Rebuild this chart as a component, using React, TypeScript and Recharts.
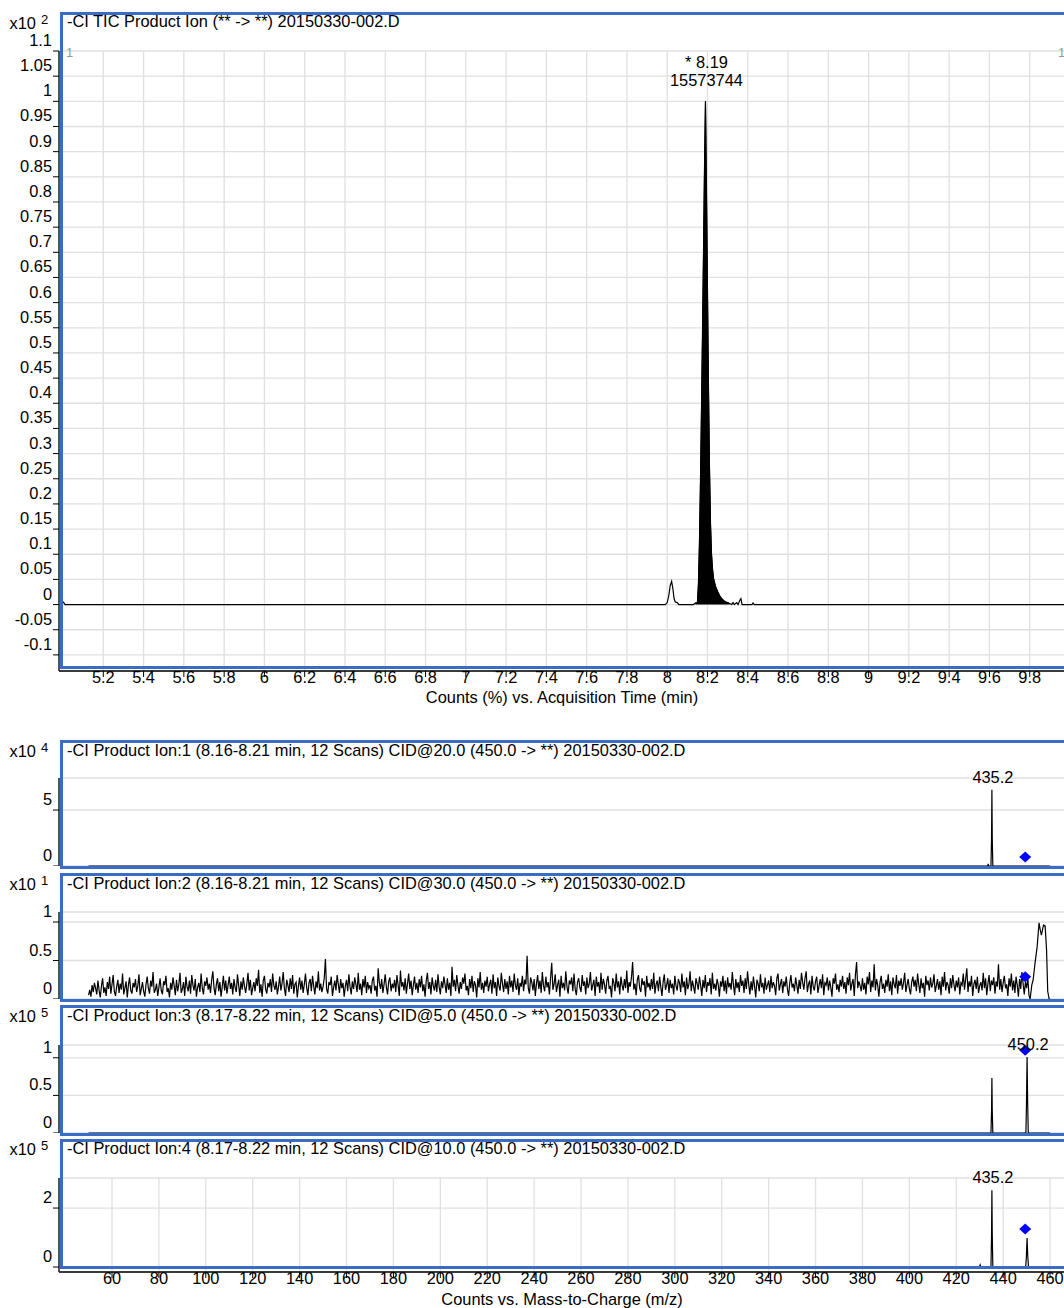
import React from "react";
import {
  ComposedChart,
  Line,
  Area,
  Scatter,
  XAxis,
  YAxis,
  CartesianGrid,
  ReferenceDot,
  Label,
} from "recharts";

const FONT = '"Liberation Sans", Arial, Helvetica, sans-serif';
const FS = 16.4;
const BLUE = "#3a6cc6";
const GRID = "#e0e0e0";

// ---------------- TIC chromatogram (top) ----------------
const ticTimes = [
  5.0, 5.01, 6.0, 7.0, 7.99, 8.0, 8.008, 8.015, 8.022, 8.028, 8.034, 8.04, 8.05, 8.058,
  8.13, 8.14, 8.15, 8.155, 8.16, 8.165, 8.17, 8.175, 8.18, 8.185, 8.19, 8.195, 8.2,
  8.205, 8.21, 8.215, 8.22, 8.225, 8.23, 8.24, 8.25, 8.26, 8.27, 8.28, 8.29, 8.3, 8.31,
  8.32, 8.327, 8.333, 8.345, 8.352, 8.36, 8.366, 8.372, 8.42, 8.426, 8.432, 10.0,
];
const ticValues = [
  0.006, 0.0, 0.0, 0.0, 0.0, 0.004, 0.018, 0.038, 0.046, 0.032, 0.012, 0.005, 0.004, 0.0,
  0.0, 0.003, 0.004, 0.04, 0.12, 0.24, 0.38, 0.53, 0.69, 0.86, 1.0, 0.82, 0.62,
  0.43, 0.27, 0.16, 0.1, 0.07, 0.052, 0.036, 0.026, 0.018, 0.012, 0.008, 0.005, 0.004, 0.002,
  0.0, 0.004, 0.0, 0.004, 0.0, 0.008, 0.012, 0.0, 0.0, 0.003, 0.0, 0.0,
];
const ticFillStart = 8.14;
const ticFillEnd = 8.31;
const timeTicks = [5.2, 5.4, 5.6, 5.8, 6, 6.2, 6.4, 6.6, 6.8, 7, 7.2, 7.4, 7.6, 7.8, 8, 8.2, 8.4, 8.6, 8.8, 9, 9.2, 9.4, 9.6, 9.8];
const ticYTicks = [-0.1, -0.05, 0, 0.05, 0.1, 0.15, 0.2, 0.25, 0.3, 0.35, 0.4, 0.45, 0.5, 0.55, 0.6, 0.65, 0.7, 0.75, 0.8, 0.85, 0.9, 0.95, 1, 1.05, 1.1];
const ticPeakTime = 8.19;
const ticPeakValue = 1.0;
const ticPeakLabel1 = "* 8.19";
const ticPeakLabel2 = "15573744";

// ---------------- Product ion spectra ----------------
const mzTicks = [60, 80, 100, 120, 140, 160, 180, 200, 220, 240, 260, 280, 300, 320, 340, 360, 380, 400, 420, 440, 460];
const precursorMz = 449.4;

// Spectrum 1 (x10^4)
const s1Mz = [50, 433.4, 433.6, 433.8, 434.8, 435.05, 435.2, 435.35, 435.6, 460];
const s1Int = [0, 0, 0.2, 0, 0, 2.5, 6.8, 2.5, 0, 0];
const s1Precursor = 0.8;

// Spectrum 2 (x10^1) noise, m/z 50.0 .. 449.5, step 0.5
const s2NoiseStart = 50;
const s2NoiseStep = 0.5;
const s2Noise = [
  0.05, 0.12, 0.03, 0.18, 0.09, 0.21, 0.14, 0.06, 0.24, 0.11, 0.02, 0.17, 0.27, 0.08, 0.15, 0.04, 0.22, 0.13, 0.29, 0.07,
  0.19, 0.31, 0.10, 0.04, 0.16, 0.25, 0.08, 0.20, 0.12, 0.33, 0.06, 0.14, 0.23, 0.02, 0.18, 0.28, 0.11, 0.07, 0.21, 0.15,
  0.26, 0.09, 0.17, 0.32, 0.05, 0.13, 0.22, 0.10, 0.03, 0.19, 0.29, 0.14, 0.07, 0.24, 0.16, 0.35, 0.08, 0.12, 0.20, 0.04,
  0.15, 0.27, 0.11, 0.06, 0.23, 0.18, 0.30, 0.09, 0.14, 0.02, 0.21, 0.12, 0.28, 0.17, 0.05, 0.25, 0.10, 0.19, 0.34, 0.08,
  0.13, 0.22, 0.04, 0.29, 0.16, 0.10, 0.24, 0.07, 0.31, 0.18, 0.11, 0.26, 0.03, 0.15, 0.21, 0.09, 0.33, 0.14, 0.06, 0.23,
  0.17, 0.28, 0.12, 0.20, 0.08, 0.25, 0.36, 0.14, 0.05, 0.19, 0.27, 0.10, 0.22, 0.03, 0.16, 0.30, 0.11, 0.24, 0.07, 0.18,
  0.29, 0.13, 0.21, 0.06, 0.26, 0.15, 0.09, 0.32, 0.18, 0.04, 0.23, 0.12, 0.28, 0.16, 0.08, 0.20, 0.34, 0.11, 0.25, 0.05,
  0.14, 0.22, 0.10, 0.27, 0.17, 0.38, 0.08, 0.19, 0.03, 0.24, 0.30, 0.13, 0.07, 0.21, 0.15, 0.26, 0.09, 0.33, 0.18, 0.12,
  0.23, 0.06, 0.16, 0.29, 0.11, 0.20, 0.35, 0.14, 0.04, 0.25, 0.18, 0.09, 0.27, 0.13, 0.31, 0.07, 0.19, 0.22, 0.02, 0.17,
  0.28, 0.12, 0.24, 0.08, 0.19, 0.33, 0.15, 0.05, 0.21, 0.26, 0.10, 0.30, 0.17, 0.06, 0.23, 0.14, 0.36, 0.11, 0.20, 0.09,
  0.16, 0.27, 0.52, 0.13, 0.07, 0.22, 0.18, 0.29, 0.04, 0.15, 0.24, 0.11, 0.31, 0.19, 0.08, 0.26, 0.14, 0.21, 0.03, 0.17,
  0.25, 0.10, 0.32, 0.16, 0.06, 0.23, 0.13, 0.28, 0.19, 0.09, 0.34, 0.12, 0.20, 0.05, 0.26, 0.15, 0.30, 0.08, 0.22, 0.14,
  0.18, 0.07, 0.24, 0.29, 0.11, 0.17, 0.03, 0.40, 0.21, 0.13, 0.26, 0.08, 0.19, 0.32, 0.15, 0.06, 0.23, 0.28, 0.10, 0.20,
  0.14, 0.25, 0.09, 0.31, 0.18, 0.04, 0.37, 0.16, 0.22, 0.11, 0.27, 0.07, 0.20, 0.33, 0.13, 0.24, 0.05, 0.18, 0.29, 0.12,
  0.21, 0.08, 0.26, 0.15, 0.30, 0.10, 0.19, 0.03, 0.24, 0.34, 0.13, 0.22, 0.06, 0.28, 0.17, 0.11, 0.25, 0.09, 0.32, 0.16,
  0.06, 0.23, 0.14, 0.29, 0.19, 0.08, 0.27, 0.12, 0.21, 0.04, 0.42, 0.16, 0.25, 0.10, 0.31, 0.18, 0.07, 0.22, 0.13, 0.28,
  0.20, 0.33, 0.11, 0.17, 0.05, 0.26, 0.14, 0.30, 0.09, 0.23, 0.18, 0.02, 0.27, 0.15, 0.35, 0.12, 0.21, 0.08, 0.24, 0.16,
  0.29, 0.10, 0.19, 0.25, 0.07, 0.32, 0.14, 0.22, 0.04, 0.28, 0.17, 0.11, 0.34, 0.20, 0.09, 0.26, 0.13, 0.23, 0.06, 0.30,
  0.15, 0.24, 0.09, 0.33, 0.18, 0.12, 0.27, 0.05, 0.21, 0.16, 0.30, 0.10, 0.25, 0.19, 0.56, 0.14, 0.07, 0.28, 0.22, 0.11,
  0.26, 0.04, 0.20, 0.31, 0.13, 0.24, 0.08, 0.35, 0.17, 0.10, 0.29, 0.15, 0.22, 0.06, 0.27, 0.47, 0.12, 0.19, 0.32, 0.09,
  0.18, 0.25, 0.03, 0.30, 0.14, 0.21, 0.11, 0.36, 0.16, 0.07, 0.24, 0.19, 0.28, 0.10, 0.33, 0.13, 0.05, 0.22, 0.27, 0.15,
  0.09, 0.31, 0.17, 0.23, 0.06, 0.28, 0.14, 0.20, 0.35, 0.11, 0.18, 0.25, 0.04, 0.29, 0.16, 0.22, 0.08, 0.34, 0.12, 0.26,
  0.19, 0.07, 0.24, 0.30, 0.13, 0.17, 0.02, 0.27, 0.21, 0.10, 0.33, 0.15, 0.23, 0.06, 0.29, 0.18, 0.11, 0.26, 0.14, 0.37,
  0.08, 0.22, 0.16, 0.28, 0.48, 0.12, 0.20, 0.05, 0.25, 0.31, 0.14, 0.09, 0.27, 0.18, 0.23, 0.03, 0.30, 0.15, 0.21, 0.11,
  0.26, 0.13, 0.34, 0.07, 0.19, 0.24, 0.10, 0.29, 0.16, 0.04, 0.22, 0.32, 0.12, 0.18, 0.27, 0.08, 0.25, 0.14, 0.20, 0.06,
  0.30, 0.17, 0.11, 0.26, 0.21, 0.09, 0.33, 0.15, 0.23, 0.05, 0.28, 0.13, 0.19, 0.36, 0.10, 0.24, 0.16, 0.07, 0.27, 0.20,
  0.12, 0.29, 0.18, 0.04, 0.25, 0.14, 0.31, 0.09, 0.22, 0.17, 0.27, 0.06, 0.34, 0.13, 0.20, 0.11, 0.26, 0.19, 0.03, 0.23,
  0.16, 0.30, 0.10, 0.24, 0.07, 0.28, 0.15, 0.21, 0.12, 0.35, 0.18, 0.05, 0.26, 0.14, 0.22, 0.09, 0.31, 0.17, 0.24, 0.08,
  0.27, 0.13, 0.36, 0.19, 0.06, 0.23, 0.11, 0.29, 0.16, 0.02, 0.25, 0.20, 0.10, 0.32, 0.15, 0.21, 0.07, 0.28, 0.12, 0.18,
  0.24, 0.09, 0.30, 0.14, 0.22, 0.17, 0.05, 0.27, 0.33, 0.11, 0.19, 0.26, 0.08, 0.23, 0.16, 0.29, 0.13, 0.04, 0.21, 0.31,
  0.15, 0.20, 0.10, 0.28, 0.18, 0.07, 0.25, 0.13, 0.34, 0.22, 0.12, 0.27, 0.36, 0.09, 0.19, 0.24, 0.06, 0.30, 0.16, 0.11,
  0.23, 0.29, 0.08, 0.17, 0.26, 0.14, 0.32, 0.05, 0.21, 0.18, 0.28, 0.11, 0.24, 0.15, 0.03, 0.27, 0.20, 0.33, 0.12, 0.19,
  0.09, 0.25, 0.16, 0.30, 0.13, 0.22, 0.07, 0.28, 0.18, 0.34, 0.11, 0.20, 0.26, 0.04, 0.31, 0.48, 0.14, 0.23, 0.17, 0.10,
  0.27, 0.12, 0.21, 0.06, 0.29, 0.19, 0.35, 0.09, 0.24, 0.15, 0.45, 0.11, 0.26, 0.18, 0.03, 0.22, 0.30, 0.13, 0.20, 0.08,
  0.25, 0.16, 0.32, 0.10, 0.23, 0.05, 0.28, 0.19, 0.14, 0.31, 0.07, 0.24, 0.17, 0.27, 0.12, 0.21, 0.34, 0.09, 0.18, 0.26,
  0.13, 0.06, 0.22, 0.29, 0.16, 0.25, 0.10, 0.33, 0.19, 0.08, 0.27, 0.14, 0.21, 0.03, 0.30, 0.18, 0.24, 0.11, 0.28, 0.15,
  0.20, 0.32, 0.09, 0.17, 0.26, 0.12, 0.23, 0.05, 0.29, 0.16, 0.35, 0.11, 0.22, 0.18, 0.07, 0.27, 0.14, 0.31, 0.19, 0.10,
  0.24, 0.15, 0.28, 0.06, 0.21, 0.18, 0.33, 0.12, 0.26, 0.40, 0.09, 0.23, 0.16, 0.30, 0.04, 0.19, 0.25, 0.13, 0.29, 0.08,
  0.17, 0.22, 0.11, 0.34, 0.14, 0.27, 0.05, 0.20, 0.31, 0.10, 0.24, 0.18, 0.28, 0.07, 0.23, 0.16, 0.45, 0.12, 0.26, 0.09,
  0.21, 0.30, 0.14, 0.19, 0.04, 0.27, 0.16, 0.33, 0.11, 0.24, 0.08, 0.29, 0.18, 0.03, 0.26, 0.13, 0.35, 0.20, 0.06, 0.22,
];
const s2TailMz = [450, 450.5, 451, 451.5, 452.2, 452.8, 453.6, 454.5, 455.3, 455.8, 456.3, 457.2, 457.9, 458.5, 459.0, 459.6, 460];
const s2TailInt = [0.14, 0.28, 0.05, 0.0, 0.18, 0.25, 0.47, 0.68, 0.99, 0.9, 0.83, 0.96, 0.95, 0.64, 0.1, 0.0, 0.0];
const s2Precursor = 0.29;

// Spectrum 3 (x10^5)
const s3Mz = [50, 434.8, 435.05, 435.2, 435.35, 435.6, 449.7, 449.95, 450.2, 450.45, 450.7, 460];
const s3Int = [0, 0, 0.3, 0.73, 0.3, 0, 0, 0.4, 1.01, 0.4, 0, 0];
const s3Precursor = 1.1;

// Spectrum 4 (x10^5)
const s4Mz = [50, 429.9, 430.2, 430.5, 434.8, 435.05, 435.2, 435.35, 435.6, 449.6, 449.9, 450.2, 450.5, 450.8, 460];
const s4Int = [0, 0, 0.07, 0, 0, 1.1, 2.6, 1.1, 0, 0, 0.35, 0.98, 0.35, 0, 0];
const s4Precursor = 1.29;

// ---------------- build tables ----------------
const ticData = ticTimes.map((t, i) => ({ t, v: ticValues[i] }));
const ticFill = ticData.filter((d) => d.t >= ticFillStart && d.t <= ticFillEnd);

const toSpec = (mz: number[], it: number[]) => mz.map((m, i) => ({ mz: m, v: it[i] }));
const s2Data = [
  ...s2Noise.map((v, i) => ({ mz: s2NoiseStart + i * s2NoiseStep, v })),
  ...toSpec(s2TailMz, s2TailInt),
];

const panels = [
  {
    key: "p1",
    top: 740,
    plotTop: 778,
    plotBottom: 866,
    domain: [0, 7.86],
    ticks: [0, 5],
    data: toSpec(s1Mz, s1Int),
    precursor: s1Precursor,
    label: { mz: 435.2, v: 6.8, text: "435.2" },
    showX: false,
    title: "-CI Product Ion:1 (8.16-8.21 min, 12 Scans) CID@20.0 (450.0 -> **) 20150330-002.D",
    exp: "4",
    titleY: 750,
    frame: [740, 869],
  },
  {
    key: "p2",
    top: 873,
    plotTop: 912,
    plotBottom: 999,
    domain: [0, 1.13],
    ticks: [0, 0.5, 1],
    data: s2Data,
    precursor: s2Precursor,
    label: null as any,
    showX: false,
    title: "-CI Product Ion:2 (8.16-8.21 min, 12 Scans) CID@30.0 (450.0 -> **) 20150330-002.D",
    exp: "1",
    titleY: 883,
    frame: [873, 1002],
  },
  {
    key: "p3",
    top: 1005,
    plotTop: 1045,
    plotBottom: 1133,
    domain: [0, 1.17],
    ticks: [0, 0.5, 1],
    data: toSpec(s3Mz, s3Int),
    precursor: s3Precursor,
    label: { mz: 450.2, v: 1.01, text: "450.2" },
    showX: false,
    title: "-CI Product Ion:3 (8.17-8.22 min, 12 Scans) CID@5.0 (450.0 -> **) 20150330-002.D",
    exp: "5",
    titleY: 1015,
    frame: [1005, 1136],
  },
  {
    key: "p4",
    top: 1139,
    plotTop: 1178,
    plotBottom: 1272,
    domain: [-0.17, 3.02],
    ticks: [0, 2],
    data: toSpec(s4Mz, s4Int),
    precursor: s4Precursor,
    label: { mz: 435.2, v: 2.6, text: "435.2" },
    showX: true,
    title: "-CI Product Ion:4 (8.17-8.22 min, 12 Scans) CID@10.0 (450.0 -> **) 20150330-002.D",
    exp: "5",
    titleY: 1148,
    frame: [1139, 1269],
  },
];

const CHART_W = 1080;
const MZ_DOMAIN = [37.4, 468.5];
const TIME_DOMAIN = [4.98, 10];

const YTick = (props: any) => {
  const { x, y, payload } = props;
  return (
    <text x={x + 1} y={y - 11} textAnchor="end" dominantBaseline="central" fontSize={FS} fill="#000" fontFamily={FONT}>
      {String(payload.value)}
    </text>
  );
};

const XTick = (props: any) => {
  const { x, y, payload } = props;
  return (
    <text x={x} y={y - 2} textAnchor="middle" dominantBaseline="central" fontSize={FS} fill="#000" fontFamily={FONT}>
      {String(payload.value)}
    </text>
  );
};

const Diamond = (props: any) => {
  const { cx, cy } = props;
  if (cx == null || cy == null) return null;
  return <polygon points={`${cx},${cy - 5.5} ${cx + 6},${cy} ${cx},${cy + 5.5} ${cx - 6},${cy}`} fill="#0000ff" />;
};

const PeakText = (text: string) => (props: any) => {
  const { cx, cy } = props;
  return (
    <text x={cx + 1} y={cy - 13} textAnchor="middle" dominantBaseline="central" fontSize={FS} fill="#000" fontFamily={FONT}>
      {text}
    </text>
  );
};

const TicPeakText = (props: any) => {
  const { cx, cy } = props;
  return (
    <g>
      <text x={cx + 1} y={cy - 39} textAnchor="middle" dominantBaseline="central" fontSize={FS} fill="#000" fontFamily={FONT}>
        {ticPeakLabel1}
      </text>
      <text x={cx + 1} y={cy - 21} textAnchor="middle" dominantBaseline="central" fontSize={FS} fill="#000" fontFamily={FONT}>
        {ticPeakLabel2}
      </text>
    </g>
  );
};

const abs = (left: number, top: number, extra: any = {}) => ({ position: "absolute" as const, left, top, ...extra });

const Exponent = ({ y, exp }: { y: number; exp: string }) => (
  <>
    <div style={abs(0, y - 10, { width: 36, textAlign: "right", fontSize: FS, lineHeight: "20px" })}>x10</div>
    <div style={abs(41, y - 11, { fontSize: 13, lineHeight: "16px" })}>{exp}</div>
  </>
);

const Title = ({ y, text }: { y: number; text: string }) => (
  <div style={abs(67, y - 10, { fontSize: FS, lineHeight: "20px", whiteSpace: "nowrap" })}>{text}</div>
);

const Frame = ({ top, bottom }: { top: number; bottom: number }) => (
  <div
    style={abs(60, top, {
      width: 1030,
      height: bottom - top,
      border: `3px solid ${BLUE}`,
      boxSizing: "border-box",
      pointerEvents: "none",
    })}
  />
);

export default function App() {
  const topH = 710;
  return (
    <div
      style={{
        position: "absolute",
        left: 0,
        top: 0,
        width: 1064,
        height: 1308,
        overflow: "hidden",
        background: "#fff",
        fontFamily: FONT,
        color: "#000",
      }}
    >
      {/* Top TIC chart */}
      <div style={abs(0, 0)}>
        <ComposedChart width={CHART_W} height={topH} margin={{ top: 51, right: 10, bottom: 0, left: 0 }}>
          <CartesianGrid stroke={GRID} strokeWidth={1.3} />
          <XAxis
            type="number"
            dataKey="t"
            domain={TIME_DOMAIN}
            ticks={timeTicks}
            interval={0}
            allowDataOverflow
            height={topH - 671}
            tickSize={6}
            tick={<XTick />}
            axisLine={{ stroke: "#000", strokeWidth: 1.3 }}
            tickLine={{ stroke: "#000" }}
          >
            <Label
              content={(p: any) => (
                <text x={562} y={p.viewBox.y + 26} textAnchor="middle" dominantBaseline="central" fontSize={FS} fontFamily={FONT} fill="#000">
                  Counts (%) vs. Acquisition Time (min)
                </text>
              )}
            />
          </XAxis>
          <YAxis
            type="number"
            domain={[-0.132, 1.1]}
            ticks={ticYTicks}
            interval={0}
            allowDataOverflow
            width={59}
            tickSize={6}
            tick={<YTick />}
            axisLine={{ stroke: "#222", strokeWidth: 1.5 }}
            tickLine={{ stroke: "#000" }}
          />
          <Area
            data={ticFill}
            dataKey="v"
            type="linear"
            baseValue={0}
            fill="#000"
            fillOpacity={1}
            stroke="#000"
            strokeWidth={1}
            isAnimationActive={false}
          />
          <Line data={ticData} dataKey="v" type="linear" stroke="#000" strokeWidth={1.2} dot={false} isAnimationActive={false} />
          <ReferenceDot x={ticPeakTime} y={ticPeakValue} r={0} shape={TicPeakText} />
        </ComposedChart>
      </div>
      <div style={abs(66, 45, { fontSize: 13, color: "#999", lineHeight: "15px" })}>1</div>
      <div style={abs(1058, 45, { fontSize: 13, color: "#999", lineHeight: "15px" })}>1</div>
      <Title y={21} text="-CI TIC Product Ion (** -> **) 20150330-002.D" />
      <Exponent y={23} exp="2" />
      <Frame top={12} bottom={669} />

      {panels.map((p) => {
        const xH = p.showX ? 1308 - p.plotBottom : 0;
        const h = p.plotBottom - p.top + xH;
        return (
          <React.Fragment key={p.key}>
            <div style={abs(0, p.top)}>
              <ComposedChart width={CHART_W} height={h} margin={{ top: p.plotTop - p.top, right: 10, bottom: 0, left: 0 }}>
                <CartesianGrid stroke={GRID} strokeWidth={1.3} />
                <XAxis
                  type="number"
                  dataKey="mz"
                  domain={MZ_DOMAIN}
                  ticks={mzTicks}
                  interval={0}
                  allowDataOverflow
                  height={xH}
                  tickSize={6}
                  tick={p.showX ? <XTick /> : false}
                  axisLine={p.showX ? { stroke: "#000", strokeWidth: 1.3 } : false}
                  tickLine={p.showX ? { stroke: "#000" } : false}
                >
                  {p.showX ? (
                    <Label
                      content={(lp: any) => (
                        <text x={562} y={lp.viewBox.y + 27} textAnchor="middle" dominantBaseline="central" fontSize={FS} fontFamily={FONT} fill="#000">
                          Counts vs. Mass-to-Charge (m/z)
                        </text>
                      )}
                    />
                  ) : null}
                </XAxis>
                <YAxis
                  type="number"
                  domain={p.domain}
                  ticks={p.ticks}
                  interval={0}
                  allowDataOverflow
                  width={59}
                  tickSize={6}
                  tick={<YTick />}
                  axisLine={{ stroke: "#222", strokeWidth: 1.5 }}
                  tickLine={{ stroke: "#000" }}
                />
                <Line data={p.data} dataKey="v" type="linear" stroke="#000" strokeWidth={1.2} dot={false} isAnimationActive={false} />
                <Scatter data={[{ mz: precursorMz, v: p.precursor }]} dataKey="v" shape={Diamond} isAnimationActive={false} />
                {p.label ? (
                  <ReferenceDot x={p.label.mz} y={p.label.v} r={0} shape={PeakText(p.label.text)} />
                ) : null}
              </ComposedChart>
            </div>
            <Title y={p.titleY} text={p.title} />
            <Exponent y={p.titleY + 1} exp={p.exp} />
            <Frame top={p.frame[0]} bottom={p.frame[1]} />
          </React.Fragment>
        );
      })}
    </div>
  );
}
